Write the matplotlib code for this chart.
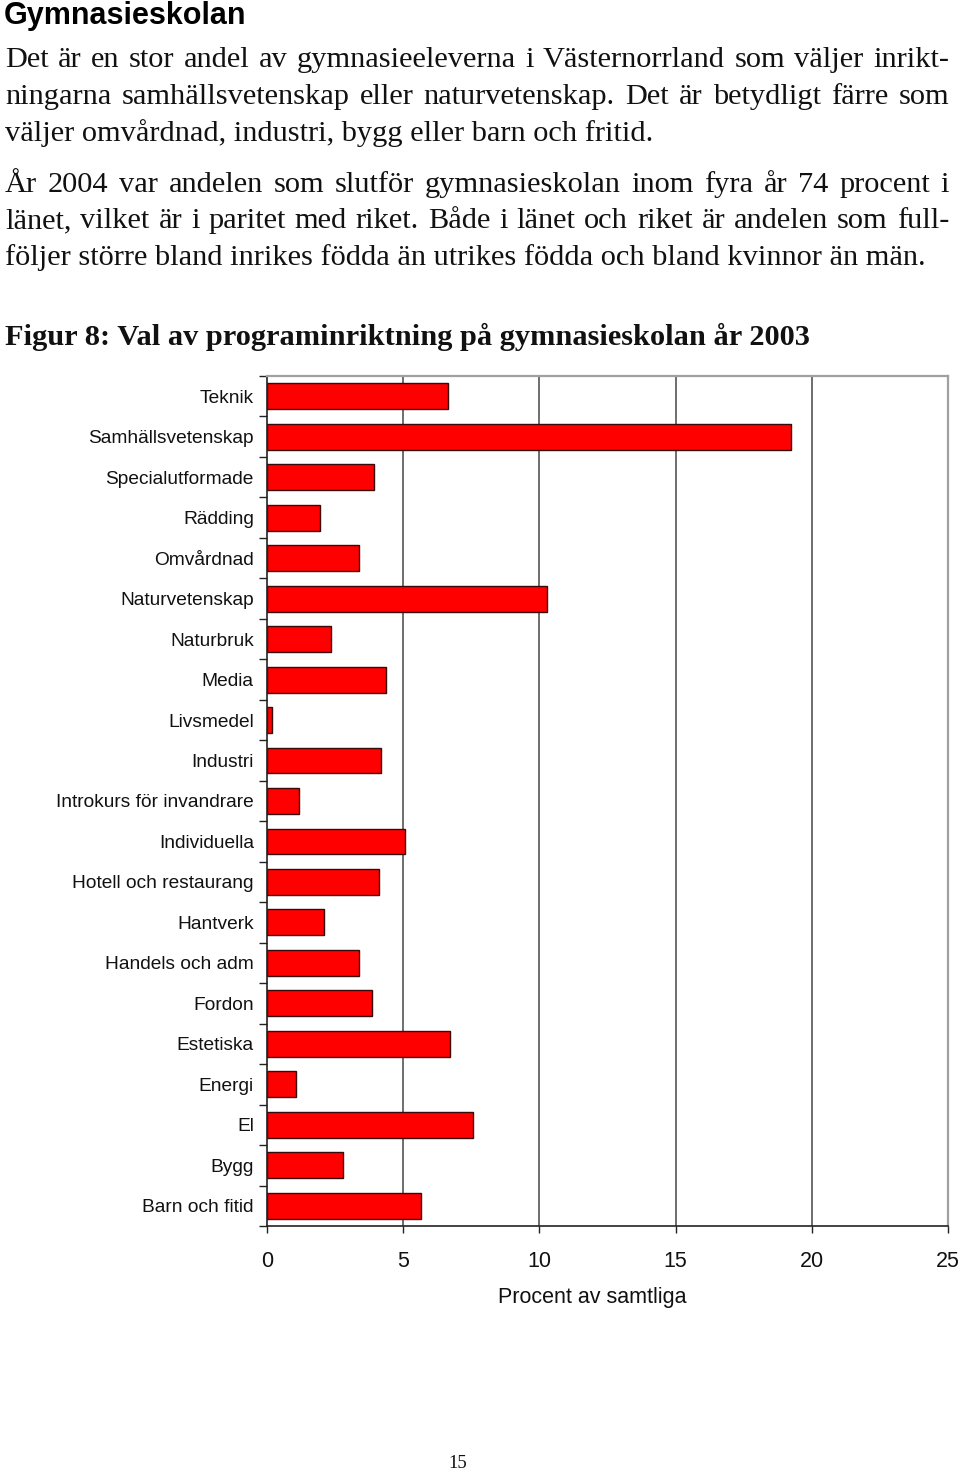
import matplotlib
matplotlib.use('Agg')
import matplotlib.pyplot as plt
import numpy as np

# ---------------- data ----------------
categories = ["Teknik", "Samhällsvetenskap", "Specialutformade", "Rädding",
              "Omvårdnad", "Naturvetenskap", "Naturbruk", "Media", "Livsmedel",
              "Industri", "Introkurs för invandrare", "Individuella",
              "Hotell och restaurang", "Hantverk", "Handels och adm", "Fordon",
              "Estetiska", "Energi", "El", "Bygg", "Barn och fitid"]
values = [6.64, 19.22, 3.92, 1.94, 3.38, 10.28, 2.35, 4.37, 0.18, 4.19, 1.17,
          5.07, 4.11, 2.09, 3.38, 3.85, 6.70, 1.06, 7.56, 2.79, 5.65]
xticks = [0, 5, 10, 15, 20, 25]
x_label = "Procent av samtliga"

heading = "Gymnasieskolan"
para1 = ["Det är en stor andel av gymnasieeleverna i Västernorrland som väljer inrikt-",
         "ningarna samhällsvetenskap eller naturvetenskap. Det är betydligt färre som",
         "väljer omvårdnad, industri, bygg eller barn och fritid."]
para2 = ["År 2004 var andelen som slutför gymnasieskolan inom fyra år 74 procent i",
         "länet, vilket är i paritet med riket. Både i länet och riket är andelen som full-",
         "följer större bland inrikes födda än utrikes födda och bland kvinnor än män."]
fig_title = "Figur 8: Val av programinriktning på gymnasieskolan år 2003"
page_no = "15"

# ---------------- figure ----------------
W, H = 960, 1472
fig = plt.figure(figsize=(W / 100, H / 100), dpi=100)
fig.patch.set_facecolor('white')
renderer = fig.canvas.get_renderer()

SANS = ['Liberation Sans', 'DejaVu Sans']
SERIF = ['Liberation Serif', 'DejaVu Serif']


def px(x, y):
    return x / W, 1 - y / H


def width_of(s, **kw):
    t = fig.text(0, 0, s, **kw)
    w = t.get_window_extent(renderer).width
    t.remove()
    return w


def fit_size(s, target, **kw):
    w = width_of(s, fontsize=20, **kw)
    return 20 * target / w


def put_line(s, x0, base, x1=None, **kw):
    if x1 is None:
        fig.text(*px(x0, base), s, ha='left', va='baseline', **kw)
        return
    words = s.split(' ')
    ws = [width_of(w_, **kw) for w_ in words]
    gap = (x1 - x0 - sum(ws)) / (len(words) - 1)
    x = x0
    for w_, ww in zip(words, ws):
        fig.text(*px(x, base), w_, ha='left', va='baseline', **kw)
        x += ww + gap


# heading
hs = fit_size(heading, 242, family=SANS, fontweight='bold')
put_line(heading, 4, 24, family=SANS, fontweight='bold', fontsize=hs)

# body text
bs = fit_size(para1[2], 648, family=SERIF)
body_kw = dict(family=SERIF, fontsize=bs, color='#111111')
L, R = 5, 949
put_line(para1[0], L, 67, R, **body_kw)
put_line(para1[1], L, 104, R, **body_kw)
put_line(para1[2], L, 141, **body_kw)
put_line(para2[0], L, 192, R, **body_kw)
put_line(para2[1], L, 228.5, R, **body_kw)
put_line(para2[2], L, 265, **body_kw)

# figure title
ts = fit_size(fig_title, 802, family=SERIF, fontweight='bold')
put_line(fig_title, 5, 345, family=SERIF, fontweight='bold', fontsize=ts,
         color='#111111')

# page number
fig.text(*px(458, 1468), page_no, ha='center', va='baseline',
         family=SERIF, fontsize=13.5, color='#111111')

# ---------------- chart ----------------
ax_l, ax_r, ax_t, ax_b = 267, 948, 376, 1226
ax = fig.add_axes([ax_l / W, 1 - ax_b / H, (ax_r - ax_l) / W, (ax_b - ax_t) / H])
y = np.arange(len(categories))
ax.set_axisbelow(True)
for t in xticks[1:-1]:
    ax.axvline(t, color='#555555', lw=1.2, zorder=0)
ax.barh(y, values, height=0.64, color='#ff0000', edgecolor='#3a0a0a',
        linewidth=1.0, zorder=2)
ax.set_xlim(xticks[0], xticks[-1])
ax.set_ylim(len(categories) - 0.5, -0.5)

ax.set_yticks(y)
ax.set_yticklabels(categories, family=SANS, fontsize=13.8, color='#111111')
ax.set_yticks(np.arange(-0.5, len(categories), 1), minor=True)
ax.tick_params(axis='y', which='major', length=0, pad=9.5)
ax.tick_params(axis='y', which='minor', length=5.8, width=1.0, color='#222222')

ax.set_xticks(xticks)
ax.set_xticklabels([str(t) for t in xticks], family=SANS, fontsize=15.5,
                   color='#111111')
ax.tick_params(axis='x', which='major', length=5.2, width=1.0, pad=12.5,
               color='#222222')

ax.set_xlabel(x_label, family=SANS, fontsize=15.5, color='#111111')
ax.xaxis.set_label_coords((592 - ax_l) / (ax_r - ax_l), -(1297 - ax_b) / (ax_b - ax_t))
ax.xaxis.label.set_verticalalignment('center')

for side in ['top', 'right']:
    ax.spines[side].set_color('#a0a0a0')
    ax.spines[side].set_linewidth(1.6)
for side in ['left', 'bottom']:
    ax.spines[side].set_color('#222222')
    ax.spines[side].set_linewidth(1.2)

fig.savefig('out.png', dpi=100, facecolor='white')
